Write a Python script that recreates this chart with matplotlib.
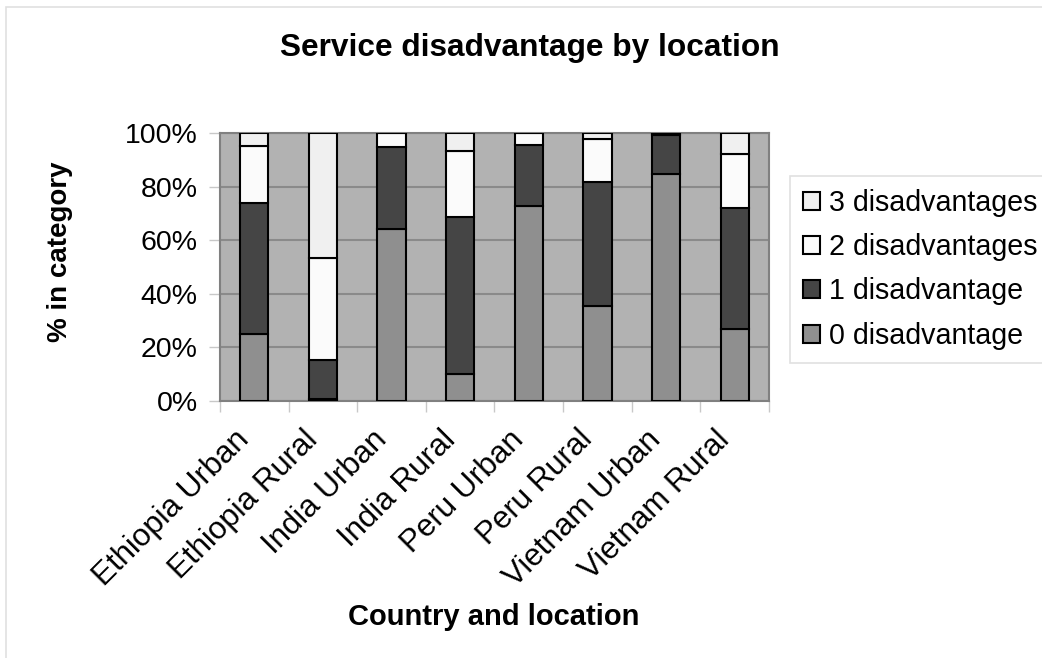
import matplotlib.pyplot as plt
import matplotlib.transforms as mtransforms
import numpy as np
from matplotlib.patches import Rectangle

plt.rcParams['font.family'] = ['Liberation Sans', 'DejaVu Sans']

locations = ['Ethiopia Urban', 'Ethiopia Rural', 'India Urban', 'India Rural',
             'Peru Urban', 'Peru Rural', 'Vietnam Urban', 'Vietnam Rural']
# share of children in each group (%)
zero_dis = [25.0, 0.6, 64.2, 10.0, 72.8, 35.6, 84.6, 26.8]
one_dis = [48.7, 14.7, 30.7, 58.5, 22.7, 46.0, 14.7, 45.3]
two_dis = [21.3, 38.2, 5.1, 24.9, 4.5, 16.0, 0.7, 19.9]
three_dis = [5.0, 46.5, 0.0, 6.6, 0.0, 2.4, 0.0, 8.0]

series = [('0 disadvantage', zero_dis, '#8f8f8f'),
          ('1 disadvantage', one_dis, '#454545'),
          ('2 disadvantages', two_dis, '#fbfbfb'),
          ('3 disadvantages', three_dis, '#f0f0f0')]

fig = plt.figure(figsize=(10.42, 6.58), dpi=100)
ax = fig.add_axes([220/1042, 1-401/658, 549/1042, 268/658])
ax.set_facecolor('#b2b2b2')

x = np.arange(len(locations))
bottom = np.zeros(len(locations))
handles = []
for name, vals, col in series:
    b = ax.bar(x, vals, bottom=bottom, width=0.41, color=col,
               edgecolor='black', linewidth=1.5, label=name, zorder=3)
    handles.append(b)
    bottom += np.array(vals)

ax.set_xlim(-0.5, len(locations) - 0.5)
ax.set_ylim(0, 100)
ax.set_yticks(np.arange(0, 101, 20))
ax.set_yticklabels([f'{v}%' for v in range(0, 101, 20)], fontsize=20.5)
ax.yaxis.grid(True, color='#8a8a8a', linewidth=1.5, zorder=1)
ax.set_axisbelow(True)

# ticks sit between categories, labels under each bar
ax.set_xticks(np.arange(len(locations) + 1) - 0.5)
ax.set_xticklabels([])
ax.set_xticks(x, minor=True)
ax.set_xticklabels(locations, minor=True, rotation=45, ha='right',
                   rotation_mode='anchor', fontsize=22.5)
ax.tick_params(axis='x', which='minor', length=0, pad=4)
ax.tick_params(axis='x', which='major', length=8, color='#c8c8c8', width=1)
ax.tick_params(axis='y', length=8, color='#c8c8c8', width=1, pad=8)
shift = mtransforms.ScaledTranslation(-0.20, -0.18, fig.dpi_scale_trans)
for lab in ax.get_xticklabels(minor=True):
    lab.set_transform(lab.get_transform() + shift)
for s in ax.spines.values():
    s.set_color('#808080')
    s.set_linewidth(1.5)

fig.text(530/1042, 1-48/658, 'Service disadvantage by location',
         ha='center', va='center', fontsize=22.8, fontweight='bold')
fig.text(60/1042, 1-252/658, '% in category', ha='center', va='center',
         rotation=90, fontsize=20, fontweight='bold')
fig.text(494/1042, 1-617/658, 'Country and location', ha='center',
         va='center', fontsize=21, fontweight='bold')

leg = fig.legend(handles[::-1], [h.get_label() for h in handles[::-1]],
                 loc='upper left', bbox_to_anchor=(790/1042, 1-176/658),
                 fontsize=20.6, frameon=True, fancybox=False,
                 edgecolor='#d9d9d9', handlelength=0.6, handleheight=0.6,
                 handletextpad=0.3, labelspacing=0.57, borderpad=0.45,
                 borderaxespad=0)
leg.get_frame().set_linewidth(1.2)

# thin outline around the whole chart
fig.patches.append(Rectangle((6/1042, -0.05), 1.1, 1-7/658+0.05,
                             transform=fig.transFigure, fill=False,
                             edgecolor='#e0e0e0', linewidth=1.2))

fig.savefig('out.png', dpi=100)
